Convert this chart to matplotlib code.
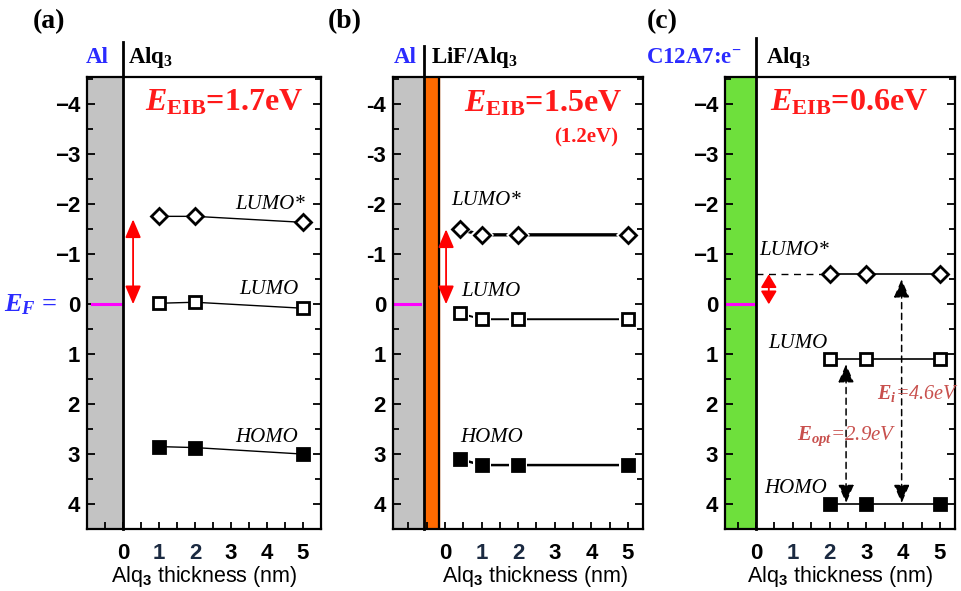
import matplotlib
matplotlib.use('Agg')
import matplotlib.pyplot as plt
from matplotlib.ticker import MultipleLocator

plt.rcParams.update({
    'font.family': 'Liberation Sans',
    'font.weight': 'bold',
    'font.size': 16,
    'mathtext.fontset': 'custom',
    'mathtext.rm': 'Liberation Serif:bold',
    'mathtext.bf': 'Liberation Serif:bold',
    'mathtext.it': 'Liberation Serif:italic:bold',
    'mathtext.cal': 'Liberation Serif:italic',
    'mathtext.sf': 'Liberation Sans:bold',
})

# energy axis (eV relative to E_F) and thickness ticks
energy_ticks = [-4, -3, -2, -1, 0, 1, 2, 3, 4]
thick_ticks = [0, 1, 2, 3, 4, 5]

# (a) Al / Alq3
a_x = [1, 2, 5]
a_lumo_star = [-1.76, -1.76, -1.64]
a_lumo = [-0.02, -0.04, 0.08]
a_homo = [2.85, 2.87, 3.0]
a_eib = 1.7

# (b) Al / LiF / Alq3
b_x = [0.4, 1, 2, 5]
b_lumo_star = [-1.5, -1.39, -1.39, -1.39]
b_lumo = [0.18, 0.3, 0.3, 0.3]
b_homo = [3.1, 3.22, 3.22, 3.22]
b_eib = 1.5
b_eib_alt = 1.2

# (c) C12A7:e- / Alq3
c_x = [2, 3, 5]
c_lumo_star = [-0.6, -0.6, -0.6]
c_lumo = [1.1, 1.1, 1.1]
c_homo = [4.0, 4.0, 4.0]
c_eib = 0.6
c_eopt = 2.9
c_ei = 4.6

SERIF = 'Liberation Serif'
RED = '#ff1a1a'
BLUE = '#2b2bff'
NAVY = '#1b2a41'
BROWN = '#c8504d'

fig = plt.figure(figsize=(9.61, 5.91), dpi=100)
W, H = 961, 591


def make_axes(left, right, xlim, minus):
    ax = fig.add_axes([left / W, 62 / H, (right - left) / W, 452 / H])
    ax.set_xlim(*xlim)
    ax.set_ylim(4.5, -4.55)
    ax.set_yticks(energy_ticks, [str(v).replace('-', minus) for v in energy_ticks])
    ax.set_xticks(thick_ticks, [str(v) for v in thick_ticks])
    for lab in ax.get_xticklabels():
        if lab.get_text() in ('1', '2'):
            lab.set_color(NAVY)
    ax.yaxis.set_minor_locator(MultipleLocator(0.5))
    ax.xaxis.set_minor_locator(MultipleLocator(0.5))
    ax.tick_params(axis='y', which='both', direction='in', left=True, right=True,
                   width=1.3, pad=5)
    ax.tick_params(axis='y', which='major', length=6)
    ax.tick_params(axis='y', which='minor', length=4)
    ax.tick_params(axis='x', which='both', direction='in', bottom=True, top=False,
                   width=1.3, length=5, pad=10)
    for s in ax.spines.values():
        s.set_linewidth(1.6)
    return ax


def levels(ax, x, star, lumo, homo, lw_star=1.0, lw_lumo=1.0, lw_homo=1.0, halo=False):
    series = [(star, 'D', 'white', 8.5, lw_star),
              (lumo, 's', 'white', 8.5, lw_lumo),
              (homo, 's', 'black', 9.0, lw_homo)]
    for y, m, fc, ms, lw in series:
        ax.plot(x, y, '-', color='black', lw=lw, zorder=3)
        if halo:
            ax.plot(x, y, m, ms=ms + 4, mfc='white', mec='white', mew=0, zorder=4)
        ax.plot(x, y, m, ms=ms, mfc=fc, mec='black', mew=2.0, ls='none', zorder=5)


def level_labels(ax, pos):
    for txt, (x, y) in zip(['LUMO*', 'LUMO', 'HOMO'], pos):
        ax.text(x, y, txt, family=SERIF, style='italic', weight='normal', fontsize=15,
                ha='center', va='center', zorder=6)


def eib_arrow(ax, x, top, bottom=0.0, head=0.7):
    ax.annotate('', xy=(x, bottom), xytext=(x, top),
                arrowprops=dict(arrowstyle='<|-|>,head_length=%.2f,head_width=0.3' % head,
                                color='red', lw=1.3, shrinkA=0, shrinkB=0),
                zorder=6)


def eib_text(ax, x, y, value):
    ax.text(x, y, r'$E_{\mathrm{EIB}}$=%.1feV' % value, family=SERIF, color=RED,
            fontsize=23, ha='left', va='baseline', zorder=6)


def header(ax, xline, ytop, left_txt, left_x, left_col, right_txt, right_x, left_ha='center'):
    ax.plot([xline, xline], [4.5, ytop], color='black', lw=2.0, clip_on=False, zorder=7)
    ax.text(left_x, -4.95, left_txt, family=SERIF, color=left_col, fontsize=16.5,
            ha=left_ha, va='center', clip_on=False)
    ax.text(right_x, -4.95, right_txt, family=SERIF, color='black', fontsize=16.5,
            ha='left', va='center', clip_on=False)


xlab = r'Alq$_\mathsf{3}$ thickness (nm)'

# ---- (a) ----
ax = make_axes(87, 321, (-1.0, 5.5), '\u2212')
ax.axvspan(-1.0, 0, color='#c3c3c3', zorder=1)
ax.plot([-0.85, -0.08], [0, 0], color='#ff00ff', lw=2.2, zorder=2)
levels(ax, a_x, a_lumo_star, a_lumo, a_homo)
level_labels(ax, [(4.1, -2.0), (4.05, -0.3), (4.0, 2.66)])
eib_arrow(ax, 0.28, -a_eib)
eib_text(ax, 0.6, -3.88, a_eib)
header(ax, 0, -5.25, 'Al', -0.72, BLUE, r'Alq$_3$', 0.15)
ax.text(-1.83, 0, r'$E_F$ =', family=SERIF, color=BLUE, fontsize=19, ha='right',
        va='center', clip_on=False)
ax.set_xlabel(xlab, fontsize=15.5, labelpad=0)

# ---- (b) ----
ax = make_axes(393, 643, (-1.42, 5.41), '-')
ax.axvspan(-1.42, -0.57, color='#c3c3c3', zorder=1)
ax.axvspan(-0.57, -0.16, color='#ff6a00', zorder=1)
ax.axvline(-0.16, color='black', lw=1.6, zorder=2)
ax.plot([-1.37, -0.68], [0, 0], color='#ff00ff', lw=2.2, zorder=2)
levels(ax, b_x, b_lumo_star, b_lumo, b_homo, lw_star=2.4, lw_lumo=1.4, lw_homo=1.8,
       halo=True)
level_labels(ax, [(1.12, -2.07), (1.26, -0.25), (1.28, 2.66)])
eib_arrow(ax, 0.03, -b_eib)
eib_text(ax, 0.52, -3.86, b_eib)
ax.text(4.73, -3.23, '(%.1feV)' % b_eib_alt, family=SERIF, color=RED, fontsize=15,
        ha='right', va='baseline')
header(ax, -0.57, -5.18, 'Al', -1.09, BLUE, r'LiF/Alq$_3$', -0.38)
ax.set_xlabel(xlab, fontsize=15.5, labelpad=0, x=0.57)

# ---- (c) ----
ax = make_axes(725, 955, (-0.84, 5.41), '\u2212')
ax.axvspan(-0.84, 0, color='#6ee03c', zorder=1)
ax.plot([-0.84, -0.08], [0, 0], color='#ff00ff', lw=2.2, zorder=2)
ax.plot([0, c_x[0]], [c_lumo_star[0], c_lumo_star[0]], '--', color='black', lw=1.0,
        dashes=(5, 4), zorder=3)
levels(ax, c_x, c_lumo_star, c_lumo, c_homo, lw_star=1.2, lw_lumo=1.2, lw_homo=1.2)
level_labels(ax, [(1.03, -1.07), (1.14, 0.78), (1.09, 3.68)])
eib_arrow(ax, 0.35, -c_eib, head=0.5)
eib_text(ax, 0.38, -3.88, c_eib)
for x, top, gap in [(2.45, c_lumo[0], c_eopt), (3.96, c_lumo_star[0], c_ei)]:
    ax.annotate('', xy=(x, top + gap - 0.02), xytext=(x, top + 0.1),
                arrowprops=dict(arrowstyle='<|-|>,head_length=0.7,head_width=0.3',
                                color='black', lw=1.1, ls=(0, (4, 3)),
                                shrinkA=0, shrinkB=0), zorder=6)
ax.text(1.11, 2.65, r'$\mathcal{E_{opt}}$=%.1feV' % c_eopt, family=SERIF,
        style='italic', weight='normal', color=BROWN, fontsize=15, ha='left',
        va='center', zorder=7)
ax.text(3.3, 1.78, r'$\mathcal{E_i}$=%.1feV' % c_ei, family=SERIF, style='italic',
        weight='normal', color=BROWN, fontsize=14.5, ha='left', va='center',
        clip_on=False, zorder=7)
header(ax, 0, -5.34, r'C12A7:e$^{\mathrm{-}}$', -0.38, BLUE, r'Alq$_3$', 0.27,
       left_ha='right')
ax.set_xlabel(xlab, fontsize=15.5, labelpad=0)

# panel letters
for txt, x in [('(a)', 33), ('(b)', 328), ('(c)', 647)]:
    fig.text(x / W, 1 - 22 / H, txt, family=SERIF, fontsize=20, ha='left', va='center')

fig.savefig('out.png', dpi=100)
